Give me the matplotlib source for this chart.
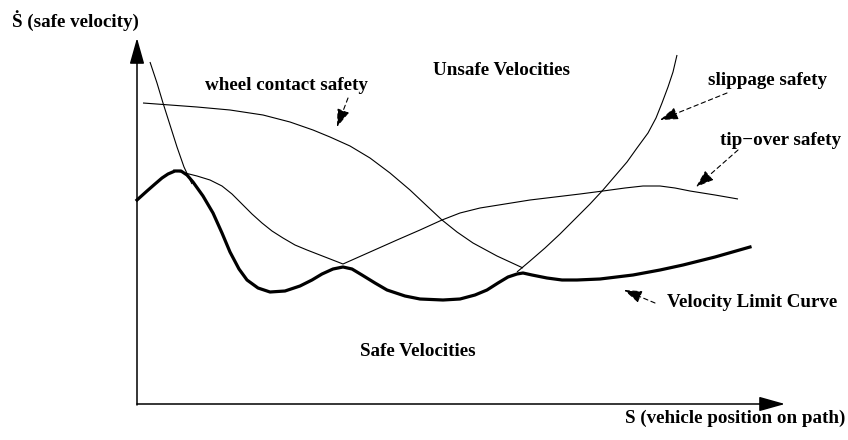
import matplotlib
matplotlib.use("Agg")
import matplotlib.pyplot as plt

# ---- data (in picture pixel coordinates) ----
limit_x = [137, 147, 155, 162, 168, 175, 181, 187, 193, 203, 213, 222, 230, 239, 247, 258, 270, 285, 300, 312,
           322, 333, 343, 352, 362, 375, 387, 405, 420, 443, 460, 475, 487, 498, 508, 517, 523, 532, 547, 562,
           577, 600, 633, 660, 683, 715, 750]
limit_y = [200, 191, 184, 178, 174, 171, 171, 175, 182, 196, 213, 233, 252, 269, 280, 288, 292, 291, 286, 280,
           274, 269, 267, 269, 275, 283, 290, 296, 299, 300, 299, 295, 290, 283, 277, 274, 273, 275, 278, 280,
           280, 279, 275, 270, 265, 257, 247]

tip_x = [173, 185, 197, 210, 222, 232, 242, 252, 262, 272, 283, 295, 307, 325, 343, 370, 397, 420, 442, 460,
         480, 505, 530, 555, 580, 603, 625, 643, 660, 675, 690, 715, 738]
tip_y = [170, 173, 176, 180, 186, 194, 204, 214, 223, 231, 238, 245, 250, 257, 264, 252, 240, 230, 220, 213,
         208, 204, 200, 197, 194, 191, 188, 186, 186, 188, 191, 195, 199]

wheel_x = [143, 170, 197, 230, 263, 290, 313, 330, 350, 370, 390, 410, 427, 442, 457, 473, 497, 523]
wheel_y = [103, 105, 107, 110, 115, 122, 130, 137, 146, 158, 173, 190, 206, 220, 232, 243, 256, 268]

slip_left_x = [150, 157, 163, 170, 177, 184, 192]
slip_left_y = [62, 83, 103, 125, 147, 167, 184]

slip_right_x = [517, 530, 545, 560, 575, 590, 603, 615, 627, 637, 648, 656, 662, 668, 673, 677]
slip_right_y = [272, 261, 248, 234, 219, 204, 190, 176, 162, 148, 133, 118, 103, 87, 72, 55]

# labels: (text, x, baseline y, align)
labels = [
    ("Ṡ (safe velocity)", 12, 27, "left"),
    ("wheel contact safety", 205, 90, "left"),
    ("Unsafe Velocities", 433, 75, "left"),
    ("slippage safety", 708, 85, "left"),
    ("tip\u2212over safety", 720, 145, "left"),
    ("Velocity Limit Curve", 667, 307, "left"),
    ("Safe Velocities", 360, 356, "left"),
    ("S (vehicle position on path)", 845, 423, "right"),
]

# dashed pointer arrows: (start, tip)
pointers = [
    ((348, 98), (337, 127)),
    ((727, 93), (660, 120)),
    ((738, 150), (696, 187)),
    ((655, 303), (624, 290)),
]

# ---- drawing ----
fig = plt.figure(figsize=(8.48, 4.40), dpi=100)
ax = fig.add_axes([0, 0, 1, 1])
ax.set_xlim(0, 848)
ax.set_ylim(440, 0)
ax.axis("off")

thin = dict(color="black", lw=0.8, solid_capstyle="butt", solid_joinstyle="round")
ax.plot(wheel_x, wheel_y, **thin)
ax.plot(tip_x, tip_y, **thin)
ax.plot(slip_left_x, slip_left_y, **thin)
ax.plot(slip_right_x, slip_right_y, **thin)
ax.plot(limit_x, limit_y, color="black", lw=2.3, solid_joinstyle="round")

# axes arrows
ax.annotate("", xy=(137, 38), xytext=(137, 405),
            arrowprops=dict(arrowstyle="-|>,head_length=1.6,head_width=0.45", color="black",
                            lw=1.1, mutation_scale=10, shrinkA=0, shrinkB=0))
ax.annotate("", xy=(785, 404), xytext=(137, 404),
            arrowprops=dict(arrowstyle="-|>,head_length=1.6,head_width=0.45", color="black",
                            lw=1.1, mutation_scale=10, shrinkA=0, shrinkB=0))

for (sx, sy), (tx, ty) in pointers:
    ax.annotate("", xy=(tx, ty), xytext=(sx, sy),
                arrowprops=dict(arrowstyle="-|>,head_length=1.1,head_width=0.38", color="black",
                                lw=0.8, linestyle=(0, (4, 3)), mutation_scale=10,
                                shrinkA=0, shrinkB=0))

for txt, x, y, ha in labels:
    ax.text(x, y, txt, ha=ha, va="baseline", fontsize=13.7, fontweight="bold",
            family=["Liberation Serif", "DejaVu Serif"])

fig.savefig("out.png", dpi=100)
